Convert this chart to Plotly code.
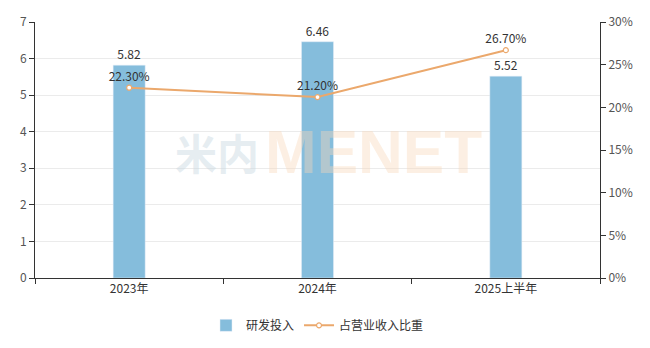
import plotly.graph_objects as go

categories = ["2023年", "2024年", "2025上半年"]
rd_invest = [5.82, 6.46, 5.52]
ratio_pct = [22.30, 21.20, 26.70]
left_ticks = [0, 1, 2, 3, 4, 5, 6, 7]
right_ticks = [0, 5, 10, 15, 20, 25, 30]

font_family = "Noto Sans CJK SC, Microsoft YaHei, sans-serif"
bar_color = "#85BDDC"
line_color = "#EBA86C"

fig = go.Figure()
fig.add_trace(go.Bar(
    x=categories, y=rd_invest, name="研发投入",
    marker=dict(color=bar_color),
    width=0.17,
    text=[f"{v:.2f}" for v in rd_invest], textposition="outside",
    textfont=dict(size=12, color="#333333", family=font_family),
    cliponaxis=False,
))
fig.add_trace(go.Scatter(
    x=categories, y=ratio_pct, name="占营业收入比重", yaxis="y2",
    mode="lines+markers+text",
    line=dict(color=line_color, width=2),
    marker=dict(size=5, color="white", line=dict(color=line_color, width=1.2)),
    text=[f"{v:.2f}%" for v in ratio_pct], textposition="top center",
    textfont=dict(size=12, color="#333333", family=font_family),
    cliponaxis=False,
))

# watermark
fig.add_annotation(xref="paper", yref="paper", x=0.398, xanchor="right", y=0.496, text="<b>米内</b>",
                   showarrow=False, borderpad=0,
                   font=dict(size=42, color="rgba(200,215,225,0.45)", family=font_family))
fig.add_annotation(xref="paper", yref="paper", x=0.405, xanchor="left", y=0.496, text="<b>MENET</b>",
                   showarrow=False, borderpad=0,
                   font=dict(size=62, color="rgba(248,215,185,0.40)", family="Liberation Sans"))

fig.update_layout(
    width=650, height=348,
    margin=dict(l=35, r=50, t=22, b=70, autoexpand=False),
    plot_bgcolor="white", paper_bgcolor="white",
    font=dict(family=font_family, size=12, color="#333333"),
    bargap=0.5,
    xaxis=dict(
        type="category", showline=True, linecolor="#333333", linewidth=1,
        ticks="outside", tickson="boundaries", ticklen=5, tickcolor="#333333",
        showgrid=False, tickfont=dict(size=12, color="#333333"),
    ),
    yaxis=dict(
        range=[0, 7], tickvals=left_ticks, showline=True, linecolor="#333333",
        ticks="outside", ticklen=5, tickcolor="#333333",
        gridcolor="#EBEBEB", zeroline=False, tickfont=dict(size=12, color="#555555"),
    ),
    yaxis2=dict(
        overlaying="y", side="right", range=[0, 30], tickvals=right_ticks,
        ticktext=[f"{t}%" for t in right_ticks], showline=True, linecolor="#333333",
        ticks="outside", ticklen=5, tickcolor="#333333", showgrid=False,
        zeroline=False, tickfont=dict(size=12, color="#555555"),
    ),
    legend=dict(orientation="h", x=0.5, xanchor="center", y=-0.185, yanchor="middle",
                font=dict(size=12, color="#333333")),
    showlegend=True,
)

fig.write_html("out.html")
